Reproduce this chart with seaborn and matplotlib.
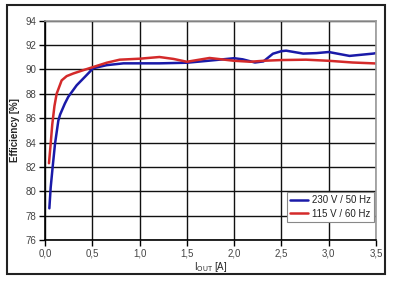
import matplotlib
matplotlib.use("Agg")
import matplotlib.pyplot as plt
import matplotlib.patches as mpatches
import numpy as np
import pandas as pd
import seaborn as sns

# ---- data ----
x_230 = [0.046, 0.06, 0.081, 0.106, 0.141, 0.16, 0.21, 0.246, 0.335, 0.423, 0.51,
         0.652, 0.83, 1.0, 1.21, 1.5, 1.71, 2.0, 2.09, 2.22, 2.31, 2.41, 2.5, 2.55,
         2.73, 2.87, 3.0, 3.22, 3.47, 3.5]
eff_230 = [78.6, 80.3, 82.0, 83.9, 85.8, 86.3, 87.2, 87.75, 88.7, 89.4, 90.1,
           90.35, 90.5, 90.5, 90.5, 90.55, 90.7, 90.92, 90.83, 90.57, 90.66, 91.29, 91.5, 91.54,
           91.3, 91.34, 91.43, 91.11, 91.3, 91.34]
x_115 = [0.042, 0.06, 0.077, 0.1, 0.123, 0.176, 0.229, 0.30, 0.405, 0.51, 0.652, 0.79,
         1.0, 1.21, 1.36, 1.5, 1.74, 2.0, 2.17, 2.31, 2.5, 2.76, 3.0, 3.25, 3.5]
eff_115 = [82.3, 83.9, 85.5, 87.0, 88.0, 89.1, 89.45, 89.67, 89.94, 90.2, 90.55, 90.8,
           90.88, 91.02, 90.86, 90.63, 90.94, 90.71, 90.63, 90.71, 90.77, 90.8, 90.71, 90.57, 90.49]
series_names = ["230 V / 50 Hz", "115 V / 60 Hz"]
series_colors = ["#1a1aa8", "#d42a2a"]
x_ticks = [0.0, 0.5, 1.0, 1.5, 2.0, 2.5, 3.0, 3.5]
x_tick_labels = ["0,0", "0,5", "1,0", "1,5", "2,0", "2,5", "3,0", "3,5"]
y_ticks = [76, 78, 80, 82, 84, 86, 88, 90, 92, 94]

df = pd.concat([
    pd.DataFrame({"I": x_230, "eff": eff_230, "series": series_names[0]}),
    pd.DataFrame({"I": x_115, "eff": eff_115, "series": series_names[1]}),
])

sns.set_theme(style="white")
plt.rcParams["font.family"] = ["Liberation Sans", "DejaVu Sans"]

fig = plt.figure(figsize=(3.97, 2.83), dpi=100)
ax = fig.add_axes([45 / 397, 1 - 240 / 283, 331 / 397, 219.3 / 283])

# outer frame
fig.patches.append(mpatches.Rectangle((7 / 397, 1 - 274 / 283), 378 / 397, 269 / 283,
                                      transform=fig.transFigure, fill=False,
                                      edgecolor="#222222", linewidth=1.5))

sns.lineplot(data=df, x="I", y="eff", hue="series", hue_order=series_names,
             palette=series_colors, linewidth=1.8, ax=ax, sort=False, estimator=None)

ax.set_xlim(0, 3.5)
ax.set_ylim(76, 94)
ax.set_xticks(x_ticks)
ax.set_xticklabels(x_tick_labels)
ax.set_yticks(y_ticks)
ax.grid(True, color="#111111", linewidth=1.0)
ax.set_axisbelow(True)
for s in ["left", "bottom"]:
    ax.spines[s].set_color("black")
    ax.spines[s].set_linewidth(1.2)
for s in ["top", "right"]:
    ax.spines[s].set_color("#999999")
    ax.spines[s].set_linewidth(1.2)
ax.tick_params(axis="both", which="major", direction="out", length=4, width=1,
               color="black", labelsize=7, labelcolor="#444444", pad=2,
               left=True, bottom=True)

ax.set_ylabel("Efficiency [%]", fontsize=7, fontweight="bold", labelpad=4)
ax.set_xlabel(r"I$_{\mathregular{OUT}}$ [A]", fontsize=7, labelpad=1)

leg = ax.legend(loc="lower right", bbox_to_anchor=(0.994, 0.082), fontsize=7,
                frameon=True, fancybox=False, handlelength=1.8, handletextpad=0.4,
                borderpad=0.35, labelspacing=0.35, borderaxespad=0)
leg.get_frame().set_edgecolor("#888888")
leg.get_frame().set_linewidth(0.8)
leg.get_frame().set_alpha(1)
for t in leg.get_texts():
    t.set_color("#222222")

fig.savefig("out.png", dpi=100)
